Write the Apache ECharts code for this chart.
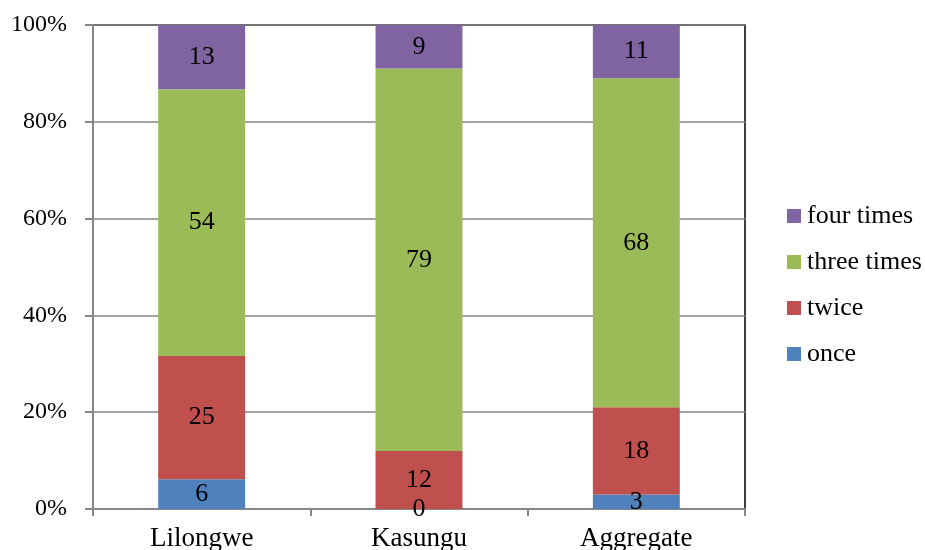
<!DOCTYPE html>
<html><head><meta charset="utf-8">
<script src="https://cdn.jsdelivr.net/npm/echarts@6/dist/echarts.min.js"></script>
<style>html,body{margin:0;padding:0;background:#fff;overflow:hidden}#c{width:925px;height:550px}</style>
</head><body><div id="c"></div>
<script>
var categories = ['Lilongwe', 'Kasungu', 'Aggregate'];
var once = [6, 0, 3];
var twice = [25, 12, 18];
var threeTimes = [54, 79, 68];
var fourTimes = [13, 9, 11];
var yTicks = [0, 20, 40, 60, 80, 100];

var seriesDefs = [
  {name: 'once', data: once, color: '#4F81BD'},
  {name: 'twice', data: twice, color: '#C0504D'},
  {name: 'three times', data: threeTimes, color: '#9BBB59'},
  {name: 'four times', data: fourTimes, color: '#8064A2'}
];
var totals = categories.map(function(c, i){
  return seriesDefs.reduce(function(s, d){ return s + d.data[i]; }, 0);
});
var font = '"Liberation Serif", "Times New Roman", serif';
var chart = echarts.init(document.getElementById('c'));
chart.setOption({
  animation: false,
  backgroundColor: '#fff',
  textStyle: {fontFamily: font},
  grid: {left: 93, right: 180, top: 25, bottom: 41, containLabel: false, outerBoundsMode: 'none',
    show: true, borderColor: '#000', borderWidth: 1.5, backgroundColor: 'transparent'},
  legend: {
    orient: 'vertical', left: 787, top: 203, itemWidth: 14, itemHeight: 14, itemGap: 20,
    icon: 'rect', padding: 0,
    data: ['four times', 'three times', 'twice', 'once'],
    textStyle: {fontFamily: font, fontSize: 26, color: '#000', padding: [0, 0, 0, 1]}
  },
  xAxis: {
    type: 'category', data: categories,
    axisLine: {lineStyle: {color: '#868686', width: 2}},
    axisTick: {show: true, length: 7, lineStyle: {color: '#868686', width: 2}},
    axisLabel: {fontFamily: font, fontSize: 27, color: '#000', margin: 16}
  },
  yAxis: {
    type: 'value', min: yTicks[0], max: yTicks[yTicks.length - 1], interval: yTicks[1] - yTicks[0],
    axisLine: {show: true, lineStyle: {color: '#868686', width: 2}},
    axisTick: {show: true, length: 8, lineStyle: {color: '#868686', width: 2}},
    splitLine: {lineStyle: {color: '#868686', width: 1.5}},
    axisLabel: {fontFamily: font, fontSize: 24, color: '#000', margin: 26,
      formatter: function(v){ return v + '%'; }}
  },
  series: seriesDefs.map(function(d){
    return {
      name: d.name, type: 'bar', stack: 'all', barWidth: '40%',
      itemStyle: {color: d.color},
      data: d.data.map(function(v, i){ return v / totals[i] * 100; }),
      label: {show: true, position: 'inside', fontFamily: font, fontSize: 26, color: '#000',
        formatter: function(p){ return String(d.data[p.dataIndex]); }}
    };
  })
});
</script></body></html>
